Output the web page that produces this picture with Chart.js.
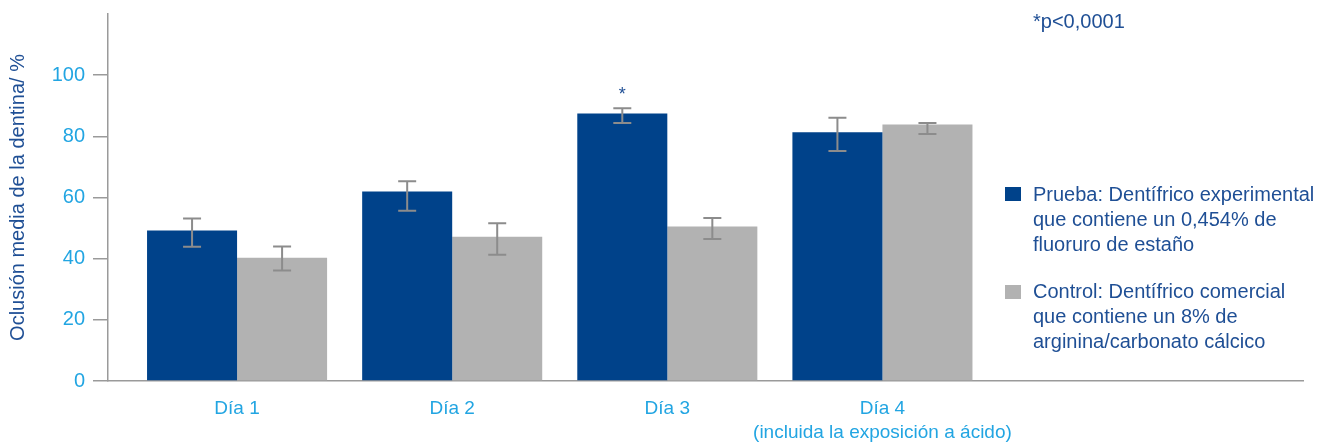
<!DOCTYPE html>
<html>
<head>
<meta charset="utf-8">
<script src="https://cdn.jsdelivr.net/npm/chart.js@4/dist/chart.umd.min.js"></script>
<style>
  html, body { margin: 0; padding: 0; background: #fff; }
  #wrap { position: relative; width: 1328px; height: 445px; }
  .txt { position: absolute; font-family: "Liberation Sans", Arial, sans-serif; font-size: 20px; color: #1f4f95; line-height: 25px; white-space: nowrap; }
  .box { position: absolute; width: 16px; height: 14px; }
</style>
</head>
<body>
<div id="wrap">
  <canvas id="c" width="1328" height="445"></canvas>
</div>
<script>
// ---- data ----
const categories = [["Día 1"], ["Día 2"], ["Día 3"], ["Día 4", "(incluida la exposición a ácido)"]];
const seriesNames = ["Prueba", "Control"];
const legendLines = [
  ["Prueba: Dentífrico experimental", "que contiene un 0,454% de", "fluoruro de estaño"],
  ["Control: Dentífrico comercial", "que contiene un 8% de", "arginina/carbonato cálcico"]
];
const pruebaMean = [49.2, 62.0, 87.5, 81.3];
const pruebaLow  = [43.9, 55.7, 84.4, 75.2];
const pruebaHigh = [53.1, 65.3, 89.2, 86.1];
const controlMean = [40.3, 47.2, 50.5, 83.9];
const controlLow  = [36.1, 41.3, 46.4, 80.8];
const controlHigh = [44.0, 51.6, 53.3, 84.4];
const pruebaSig = ["", "", "*", ""];
const yTicks = [0, 20, 40, 60, 80, 100];
const note = "*p<0,0001";
const yTitle = "Oclusión media de la dentina/ %";

const BLUE = "#00428a";
const GRAY = "#b2b2b2";
const TEXTBLUE = "#1f4f95";
const TICKBLUE = "#22a5e2";
const AXIS = "#9a9a9a";
const FONT = "'Liberation Sans', Arial, sans-serif";

const toPts = arr => arr.map((v, i) => ({ x: i, y: v }));

const errorBars = {
  id: 'errorBars',
  afterDatasetsDraw(chart) {
    const ctx = chart.ctx;
    const ys = chart.scales.y;
    chart.data.datasets.forEach((ds, di) => {
      const meta = chart.getDatasetMeta(di);
      meta.data.forEach((el, i) => {
        const x = el.x;
        const yl = ys.getPixelForValue(ds.errLow[i]);
        const yh = ys.getPixelForValue(ds.errHigh[i]);
        ctx.save();
        ctx.strokeStyle = "#8c8c8c";
        ctx.lineWidth = 2;
        ctx.beginPath();
        ctx.moveTo(x, yl); ctx.lineTo(x, yh);
        ctx.moveTo(x - 9, yl); ctx.lineTo(x + 9, yl);
        ctx.moveTo(x - 9, yh); ctx.lineTo(x + 9, yh);
        ctx.stroke();
        if (ds.sig && ds.sig[i]) {
          ctx.fillStyle = TEXTBLUE;
          ctx.font = "18px " + FONT;
          ctx.textAlign = "center";
          ctx.textBaseline = "alphabetic";
          ctx.fillText(ds.sig[i], x, yh - 8);
        }
        ctx.restore();
      });
    });
  }
};

new Chart(document.getElementById('c'), {
  type: 'bar',
  data: {
    datasets: [
      { label: seriesNames[0], data: toPts(pruebaMean), backgroundColor: BLUE, errLow: pruebaLow, errHigh: pruebaHigh, sig: pruebaSig },
      { label: seriesNames[1], data: toPts(controlMean), backgroundColor: GRAY, errLow: controlLow, errHigh: controlHigh }
    ]
  },
  options: {
    responsive: false,
    animation: false,
    layout: { padding: { left: 0, right: 25, top: 14, bottom: 0 } },
    datasets: { bar: { categoryPercentage: 0.837, barPercentage: 1.0 } },
    plugins: { legend: { display: false }, tooltip: { enabled: false } },
    scales: {
      x: {
        type: 'linear',
        offset: false,
        min: -0.6,
        max: 4.955,
        afterBuildTicks: axis => { axis.ticks = categories.map((c, i) => ({ value: i })); },
        afterFit: axis => { axis.height = 64; axis.paddingLeft = 0; axis.paddingRight = 0; },
        grid: { display: false, offset: false },
        border: { display: true, color: AXIS, width: 1.5 },
        ticks: {
          autoSkip: false,
          maxRotation: 0,
          padding: 8,
          color: TICKBLUE,
          font: { family: FONT, size: 19, lineHeight: 1.27 },
          callback: v => categories[v] || ''
        }
      },
      y: {
        min: 0,
        max: 120,
        afterBuildTicks: axis => { axis.ticks = yTicks.map(v => ({ value: v })); },
        afterFit: axis => { axis.width = 108; axis.paddingTop = 0; axis.paddingBottom = 0; },
        grid: { display: true, drawOnChartArea: false, drawTicks: true, tickLength: 15, color: AXIS, lineWidth: 1.5 },
        border: { display: true, color: AXIS, width: 1.5 },
        ticks: { padding: 8, color: TICKBLUE, font: { family: FONT, size: 20 } },
        title: { display: true, text: yTitle, color: TEXTBLUE, font: { family: FONT, size: 20 }, padding: { top: 6, bottom: 4 } }
      }
    }
  },
  plugins: [errorBars]
});

// HTML legend & note
const wrap = document.getElementById('wrap');
const n = document.createElement('div');
n.className = 'txt'; n.textContent = note;
n.style.left = '1033px'; n.style.top = '9px';
wrap.appendChild(n);
const colors = [BLUE, GRAY];
const tops = [181.5, 279];
legendLines.forEach((lines, k) => {
  const b = document.createElement('div');
  b.className = 'box'; b.style.background = colors[k];
  b.style.left = '1005px'; b.style.top = (tops[k] + 5.5) + 'px';
  wrap.appendChild(b);
  const t = document.createElement('div');
  t.className = 'txt'; t.style.left = '1033px'; t.style.top = tops[k] + 'px';
  lines.forEach((l, j) => {
    const s = document.createElement('div'); s.textContent = l; t.appendChild(s);
  });
  wrap.appendChild(t);
});
</script>
</body>
</html>
